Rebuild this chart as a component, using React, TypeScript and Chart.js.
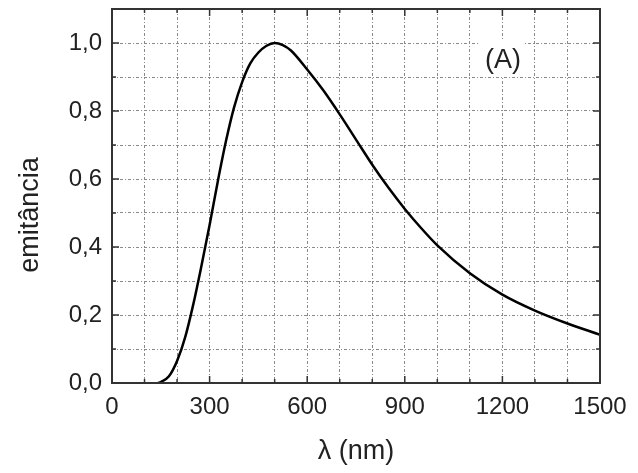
import { useEffect, useRef } from 'react';
import { Chart, registerables } from 'chart.js';

Chart.register(...registerables);

// wavelength (nm) and normalized emittance
const wavelengths = [142, 150, 175, 200, 225, 250, 275, 300, 325, 350, 375, 400, 425, 450, 475, 500, 525, 550, 600, 650, 700, 750, 800, 850, 900, 950, 1000, 1100, 1200, 1300, 1400, 1500];
const emittance = [0, 0.003, 0.02, 0.065, 0.135, 0.232, 0.345, 0.465, 0.592, 0.71, 0.81, 0.885, 0.94, 0.972, 0.992, 1.0, 0.994, 0.978, 0.922, 0.86, 0.79, 0.716, 0.642, 0.574, 0.512, 0.456, 0.405, 0.323, 0.26, 0.213, 0.175, 0.142];

const xTickLabels = [0, 300, 600, 900, 1200, 1500];
const yTickLabels = ['0,0', '0,2', '0,4', '0,6', '0,8', '1,0'];

const xTitle = 'λ (nm)';
const yTitle = 'emitância';
const panelLabel = '(A)';

const FONT = '"Liberation Sans", Arial, sans-serif';

const framePlugin = {
  id: 'frame',
  afterDraw(chart: Chart) {
    const { ctx, chartArea: a, scales } = chart;
    const xs = scales.x;
    const ys = scales.y;
    ctx.save();

    // panel label with white box behind it
    ctx.fillStyle = '#fff';
    ctx.fillRect(479, 40, 46, 36);
    ctx.fillStyle = '#222';
    ctx.font = `27px ${FONT}`;
    ctx.textAlign = 'center';
    ctx.textBaseline = 'alphabetic';
    ctx.fillText(panelLabel, 503, 68);

    // frame
    ctx.strokeStyle = '#333';
    ctx.lineWidth = 2;
    ctx.strokeRect(a.left, a.top, a.right - a.left, a.bottom - a.top);

    // inward ticks
    ctx.lineWidth = 1.5;
    ctx.beginPath();
    for (let v = 0; v <= 1500; v += 100) {
      const px = xs.getPixelForValue(v);
      const len = xTickLabels.includes(v) ? 7 : 4;
      ctx.moveTo(px, a.bottom);
      ctx.lineTo(px, a.bottom - len);
      ctx.moveTo(px, a.top);
      ctx.lineTo(px, a.top + len);
    }
    for (let k = 0; k <= 11; k++) {
      const py = ys.getPixelForValue(k / 10);
      const len = k % 2 === 0 ? 7 : 4;
      ctx.moveTo(a.left, py);
      ctx.lineTo(a.left + len, py);
      ctx.moveTo(a.right, py);
      ctx.lineTo(a.right - len, py);
    }
    ctx.stroke();

    // axis titles
    ctx.fillStyle = '#222';
    ctx.font = `27px ${FONT}`;
    ctx.textAlign = 'center';
    ctx.textBaseline = 'alphabetic';
    ctx.fillText(xTitle, (a.left + a.right) / 2, 459);

    ctx.translate(38, 215);
    ctx.rotate(-Math.PI / 2);
    ctx.fillText(yTitle, 0, 0);
    ctx.restore();
  },
};

export default function App() {
  const canvasRef = useRef<HTMLCanvasElement>(null);

  useEffect(() => {
    if (!canvasRef.current) return;
    const chart = new Chart(canvasRef.current, {
      type: 'scatter',
      data: {
        datasets: [
          {
            data: wavelengths.map((x, i) => ({ x, y: emittance[i] })),
            showLine: true,
            borderColor: '#000',
            borderWidth: 2.5,
            pointRadius: 0,
            cubicInterpolationMode: 'monotone',
          },
        ],
      },
      options: {
        animation: false,
        responsive: true,
        maintainAspectRatio: false,
        layout: { padding: { top: 9, right: 38, left: 0, bottom: 0 } },
        plugins: { legend: { display: false }, tooltip: { enabled: false } },
        scales: {
          x: {
            type: 'linear',
            min: 0,
            max: 1500,
            afterFit: (s: any) => {
              s.height = 90;
              s.paddingLeft = 0;
              s.paddingRight = 0;
            },
            border: { display: false, dash: [3, 2, 1, 2] },
            grid: { color: '#8a8a8a', lineWidth: 1, drawTicks: false },
            ticks: {
              stepSize: 100,
              autoSkip: false,
              maxRotation: 0,
              padding: 10,
              color: '#222',
              font: { family: FONT, size: 24 },
              callback: (v: any) => (xTickLabels.includes(Number(v)) ? String(v) : ''),
            },
          },
          y: {
            type: 'linear',
            min: 0,
            max: 1.1,
            afterFit: (s: any) => {
              s.width = 112;
              s.paddingTop = 0;
              s.paddingBottom = 0;
            },
            border: { display: false, dash: [3, 2, 1, 2] },
            grid: { color: '#8a8a8a', lineWidth: 1, drawTicks: false },
            ticks: {
              stepSize: 0.1,
              autoSkip: false,
              padding: 10,
              color: '#222',
              font: { family: FONT, size: 24 },
              callback: (v: any) => {
                const r = Math.round(Number(v) * 10);
                return r % 2 === 0 ? yTickLabels[r / 2] ?? '' : '';
              },
            },
          },
        },
      },
      plugins: [framePlugin],
    });
    return () => chart.destroy();
  }, []);

  return (
    <div style={{ position: 'fixed', left: 0, top: 0, width: 638, height: 473, background: '#fff' }}>
      <canvas ref={canvasRef} />
    </div>
  );
}
